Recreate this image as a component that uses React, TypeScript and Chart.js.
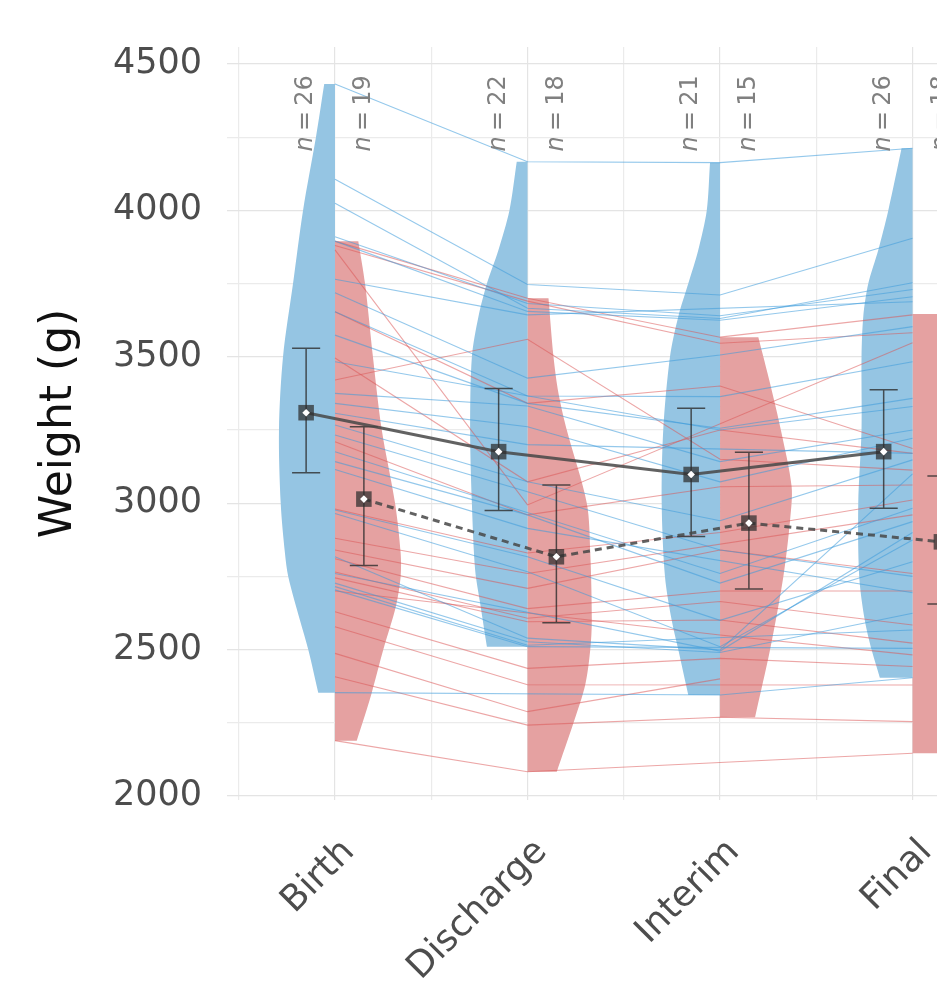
import React, { useEffect, useRef } from 'react';
import { Chart, registerables } from 'chart.js';

Chart.register(...registerables);

// ---------- data ----------
const categories = ['Birth', 'Discharge', 'Interim', 'Final'];
const yTickValues = [2000, 2250, 2500, 2750, 3000, 3250, 3500, 3750, 4000, 4250, 4500];
const xTickValues = [0.5, 1, 1.5, 2, 2.5, 3, 3.5, 4];

const blueN = [26, 22, 21, 26];
const redN = [19, 18, 15, 18];

const blueMean = [3309, 3176, 3098, 3176];
const blueUpper = [3529, 3392, 3324, 3387];
const blueLower = [3104, 2975, 2886, 2983];
const redMean = [3014, 2817, 2932, 2868];
const redUpper = [3261, 3062, 3174, 3093];
const redLower = [2787, 2592, 2707, 2656];

// individual trajectories [Birth, Discharge, Interim, Final]
const blueSubjects: (number | null)[][] = [
  [4432, 4166, 4163, 4212],
  [4106, 3747, 3711, 3905],
  [4024, 3666, 3631, 3753],
  [3910, 3682, 3640, 3730],
  [3895, 3655, 3625, 3705],
  [3765, 3643, null, 3688],
  [3719, 3427, 3506, 3603],
  [3654, 3366, 3364, 3483],
  [3574, 3341, 3256, 3358],
  [3483, null, 3250, 3330],
  [3375, 3332, 3142, 3250],
  [3341, 3261, 3073, 3222],
  [3307, 3200, null, 3170],
  [3267, 3073, 2940, 3148],
  [3233, 3039, 2840, 2750],
  [3176, null, 2760, 2983],
  [3142, 2960, 2727, 2937],
  [3115, 2914, null, 2694],
  [2977, 2817, 2600, 2800],
  [2965, 2766, 2510, 2874],
  [2817, 2539, 2499, 3100],
  [2760, null, 2495, 2900],
  [2727, 2527, 2490, 2624],
  [2715, 2515, null, 2567],
  [2704, 2510, null, 2504],
  [2353, null, 2345, 2404],
];

const redSubjects: (number | null)[][] = [
  [3895, 3700, 3567, 3643],
  [3880, 3690, 3546, 3582],
  [3865, 2994, null, 3548],
  [3654, 3341, 3400, 3187],
  [3496, 3073, 3250, 3170],
  [3421, 3560, 3150, 3113],
  [3210, 2960, 3056, 3062],
  [2980, 2830, 2900, 3011],
  [2880, 2760, null, 2960],
  [2840, 2709, 2840, 2760],
  [2810, 2640, 2700, 2700],
  [2765, 2607, 2664, 2584],
  [2745, 2595, 2601, 2522],
  [2700, null, 2550, 2482],
  [2629, 2436, 2470, 2442],
  [2578, 2380, null, 2379],
  [2487, 2288, 2400, null],
  [2407, 2242, 2269, 2254],
  [2189, 2083, null, 2146],
];

// violin half-width profiles: [weight, half width in category units]
const blueViolinBirth = [[4432, 0.056], [4250, 0.099], [4000, 0.166], [3750, 0.218], [3500, 0.27], [3250, 0.291], [3000, 0.282], [2830, 0.26], [2750, 0.243], [2600, 0.182], [2500, 0.139], [2353, 0.087]];
const redViolinBirth = [[3895, 0.121], [3750, 0.156], [3500, 0.197], [3250, 0.243], [3000, 0.312], [2830, 0.341], [2750, 0.341], [2650, 0.317], [2500, 0.251], [2353, 0.191], [2254, 0.145], [2189, 0.113]];
const blueViolinDischarge = [[4166, 0.056], [4000, 0.094], [3865, 0.151], [3750, 0.211], [3637, 0.255], [3500, 0.289], [3250, 0.298], [3000, 0.289], [2772, 0.272], [2658, 0.246], [2510, 0.211]];
const redViolinDischarge = [[3700, 0.109], [3500, 0.135], [3375, 0.161], [3250, 0.204], [3000, 0.308], [2830, 0.326], [2600, 0.334], [2500, 0.326], [2380, 0.3], [2250, 0.239], [2083, 0.152]];
const blueViolinInterim = [[4163, 0.052], [4000, 0.069], [3865, 0.113], [3750, 0.165], [3637, 0.217], [3500, 0.26], [3250, 0.295], [3000, 0.303], [2750, 0.286], [2600, 0.251], [2500, 0.217], [2345, 0.165]];
const redViolinInterim = [[3567, 0.199], [3409, 0.26], [3250, 0.316], [3056, 0.372], [2943, 0.364], [2750, 0.329], [2500, 0.26], [2269, 0.182]];
const blueViolinFinal = [[4212, 0.057], [4000, 0.126], [3865, 0.178], [3750, 0.23], [3637, 0.256], [3500, 0.265], [3250, 0.265], [3000, 0.282], [2750, 0.277], [2600, 0.248], [2500, 0.213], [2404, 0.17]];
const redViolinFinal = [[3646, 0.2], [3500, 0.26], [3250, 0.32], [3000, 0.35], [2750, 0.34], [2500, 0.28], [2250, 0.2], [2146, 0.17]];

const blueViolins = [blueViolinBirth, blueViolinDischarge, blueViolinInterim, blueViolinFinal];
const redViolins = [redViolinBirth, redViolinDischarge, redViolinInterim, redViolinFinal];

// ---------- layout / style constants ----------
const FONT = '"DejaVu Sans", "Liberation Sans", sans-serif';
const X_MIN = 0.439;
const X_MAX = 4.127;
const Y_MIN = 1986.3;
const Y_MAX = 4558;
const GROUP_OFFSET = 0.15;
const CAP_HALF = 0.073;
const N_LABEL_END = 4462;

const BLUE_FILL = '#95c5e3';
const RED_FILL = '#e5a1a1';
const BLUE_LINE = 'rgba(60,155,218,0.55)';
const RED_LINE = 'rgba(218,85,85,0.52)';

type Pt = { x: number; y: number | null };

// outline of a half violin; the two flat-end corners are repeated so the
// smoothed outline keeps sharp trimmed ends
function violinPoints(cat: number, profile: number[][], side: number): Pt[] {
  const last = profile.length - 1;
  const pts: Pt[] = [{ x: cat, y: profile[0][0] }];
  profile.forEach(([v, w], i) => {
    const p = { x: cat + side * w, y: v };
    pts.push(p);
    if (i === 0 || i === last) pts.push({ ...p });
  });
  pts.push({ x: cat, y: profile[last][0] });
  return pts;
}

function subjectPoints(values: (number | null)[]): Pt[] {
  const pts: Pt[] = [];
  values.forEach((v, i) => {
    if (v !== null) pts.push({ x: i + 1, y: v });
  });
  return pts;
}

function errorBarPoints(upper: number[], lower: number[], offset: number): Pt[] {
  const pts: Pt[] = [];
  upper.forEach((hi, i) => {
    const lo = lower[i];
    const x = i + 1 + offset;
    pts.push({ x, y: lo }, { x, y: hi }, { x, y: null });
    pts.push({ x: x - CAP_HALF, y: hi }, { x: x + CAP_HALF, y: hi }, { x, y: null });
    pts.push({ x: x - CAP_HALF, y: lo }, { x: x + CAP_HALF, y: lo }, { x, y: null });
  });
  return pts;
}

const nLabelPlugin = {
  id: 'nLabels',
  afterDatasetsDraw(chart: any) {
    const { ctx, scales } = chart;
    const xs = scales.x;
    const ys = scales.y;
    const size = 24;
    const groups: [number[], number][] = [
      [blueN, -GROUP_OFFSET],
      [redN, GROUP_OFFSET],
    ];
    ctx.save();
    ctx.fillStyle = '#808080';
    ctx.textBaseline = 'middle';
    ctx.textAlign = 'left';
    for (const [ns, off] of groups) {
      ns.forEach((n, i) => {
        const px = xs.getPixelForValue(i + 1 + off);
        const py = ys.getPixelForValue(N_LABEL_END);
        const gap = size * 0.22;
        ctx.font = `italic ${size}px ${FONT}`;
        const wN = ctx.measureText('n').width;
        ctx.font = `${size}px ${FONT}`;
        const wEq = ctx.measureText('=').width;
        const wNum = ctx.measureText(String(n)).width;
        const total = wN + gap + wEq + gap + wNum;
        ctx.save();
        ctx.translate(px, py);
        ctx.rotate(-Math.PI / 2);
        let cx = -total;
        ctx.font = `italic ${size}px ${FONT}`;
        ctx.fillText('n', cx, 0);
        cx += wN + gap;
        ctx.font = `${size}px ${FONT}`;
        ctx.fillText('=', cx, 0);
        cx += wEq + gap;
        ctx.fillText(String(n), cx, 0);
        ctx.restore();
      });
    }
    ctx.restore();
  },
};

export default function App() {
  const ref = useRef<HTMLCanvasElement>(null);

  useEffect(() => {
    const canvas = ref.current;
    if (!canvas) return;

    const datasets: any[] = [];
    const base = { pointRadius: 0, pointHoverRadius: 0, tension: 0 };

    categories.forEach((_, i) => {
      datasets.push({
        ...base,
        tension: 0.3,
        data: violinPoints(i + 1, blueViolins[i], -1),
        fill: 'shape',
        backgroundColor: BLUE_FILL,
        borderColor: 'rgba(0,0,0,0)',
        borderWidth: 0,
        order: 10,
      });
      datasets.push({
        ...base,
        tension: 0.3,
        data: violinPoints(i + 1, redViolins[i], 1),
        fill: 'shape',
        backgroundColor: RED_FILL,
        borderColor: 'rgba(0,0,0,0)',
        borderWidth: 0,
        order: 10,
      });
    });

    blueSubjects.forEach((s) => {
      datasets.push({ ...base, data: subjectPoints(s), borderColor: BLUE_LINE, borderWidth: 1.1, fill: false, spanGaps: true, order: 8 });
    });
    redSubjects.forEach((s) => {
      datasets.push({ ...base, data: subjectPoints(s), borderColor: RED_LINE, borderWidth: 1.1, fill: false, spanGaps: true, order: 8 });
    });

    datasets.push({ ...base, data: errorBarPoints(blueUpper, blueLower, -GROUP_OFFSET), borderColor: 'rgba(45,45,45,0.8)', borderWidth: 1.5, fill: false, spanGaps: false, order: 6 });
    datasets.push({ ...base, data: errorBarPoints(redUpper, redLower, GROUP_OFFSET), borderColor: 'rgba(45,45,45,0.8)', borderWidth: 1.5, fill: false, spanGaps: false, order: 6 });

    datasets.push({ ...base, data: blueMean.map((v, i) => ({ x: i + 1 - GROUP_OFFSET, y: v })), borderColor: 'rgba(70,70,70,0.85)', borderWidth: 3, fill: false, order: 4 });
    datasets.push({ ...base, data: redMean.map((v, i) => ({ x: i + 1 + GROUP_OFFSET, y: v })), borderColor: 'rgba(70,70,70,0.85)', borderWidth: 3, borderDash: [7, 5], fill: false, order: 4 });

    datasets.push({ data: blueMean.map((v, i) => ({ x: i + 1 - GROUP_OFFSET, y: v })), showLine: false, pointStyle: 'rect', pointRadius: 11, pointHoverRadius: 11, pointBackgroundColor: 'rgba(45,45,45,0.72)', pointBorderWidth: 0, order: 2 });
    datasets.push({ data: redMean.map((v, i) => ({ x: i + 1 + GROUP_OFFSET, y: v })), showLine: false, pointStyle: 'rect', pointRadius: 11, pointHoverRadius: 11, pointBackgroundColor: 'rgba(45,45,45,0.72)', pointBorderWidth: 0, order: 2 });
    datasets.push({ data: blueMean.map((v, i) => ({ x: i + 1 - GROUP_OFFSET, y: v })), showLine: false, pointStyle: 'rectRot', pointRadius: 3.8, pointHoverRadius: 3.8, pointBackgroundColor: '#ffffff', pointBorderWidth: 0, order: 1 });
    datasets.push({ data: redMean.map((v, i) => ({ x: i + 1 + GROUP_OFFSET, y: v })), showLine: false, pointStyle: 'rectRot', pointRadius: 3.8, pointHoverRadius: 3.8, pointBackgroundColor: '#ffffff', pointBorderWidth: 0, order: 1 });

    const chart = new Chart(canvas, {
      type: 'line',
      data: { datasets },
      plugins: [nLabelPlugin],
      options: {
        animation: false,
        responsive: false,
        events: [],
        layout: { autoPadding: false, padding: { top: 47, left: 0, right: 0, bottom: 0 } },
        plugins: { legend: { display: false }, tooltip: { enabled: false } },
        scales: {
          x: {
            type: 'linear',
            min: X_MIN,
            max: X_MAX,
            afterBuildTicks: (scale: any) => {
              scale.ticks = xTickValues.map((v) => ({ value: v }));
            },
            afterFit: (scale: any) => {
              scale.height = 184;
              scale.paddingLeft = 0;
              scale.paddingRight = 0;
            },
            ticks: {
              autoSkip: false,
              minRotation: 45,
              maxRotation: 45,
              padding: 31,
              labelOffset: 14,
              color: '#4d4d4d',
              font: { family: FONT, size: 36 },
              callback: (v: any) => (Number.isInteger(Number(v)) ? categories[Number(v) - 1] : ''),
            },
            grid: {
              drawTicks: false,
              color: (c: any) => (c.tick && Number.isInteger(c.tick.value) ? '#e4e4e4' : '#ebebeb'),
              lineWidth: 1.2,
            },
            border: { display: false },
          },
          y: {
            type: 'linear',
            min: Y_MIN,
            max: Y_MAX,
            afterBuildTicks: (scale: any) => {
              scale.ticks = yTickValues.map((v) => ({ value: v }));
            },
            afterFit: (scale: any) => {
              scale.width = 227;
              scale.paddingTop = 0;
              scale.paddingBottom = 0;
            },
            ticks: {
              padding: 25,
              color: '#4d4d4d',
              font: { family: FONT, size: 35 },
              callback: (v: any) => (Number(v) % 500 === 0 ? String(v) : ''),
            },
            grid: {
              drawTicks: false,
              color: (c: any) => (c.tick && c.tick.value % 500 === 0 ? '#e4e4e4' : '#ebebeb'),
              lineWidth: 1.2,
            },
            border: { display: false },
            title: {
              display: true,
              text: 'Weight (g)',
              color: '#111111',
              font: { family: FONT, size: 44 },
              padding: { top: 33, bottom: 0 },
            },
          },
        },
      } as any,
    });

    return () => chart.destroy();
  }, []);

  return (
    <div style={{ position: 'fixed', left: 0, top: 0, width: 937, height: 984, background: '#ffffff' }}>
      <canvas ref={ref} width={937} height={984} style={{ display: 'block', width: 937, height: 984 }} />
    </div>
  );
}
